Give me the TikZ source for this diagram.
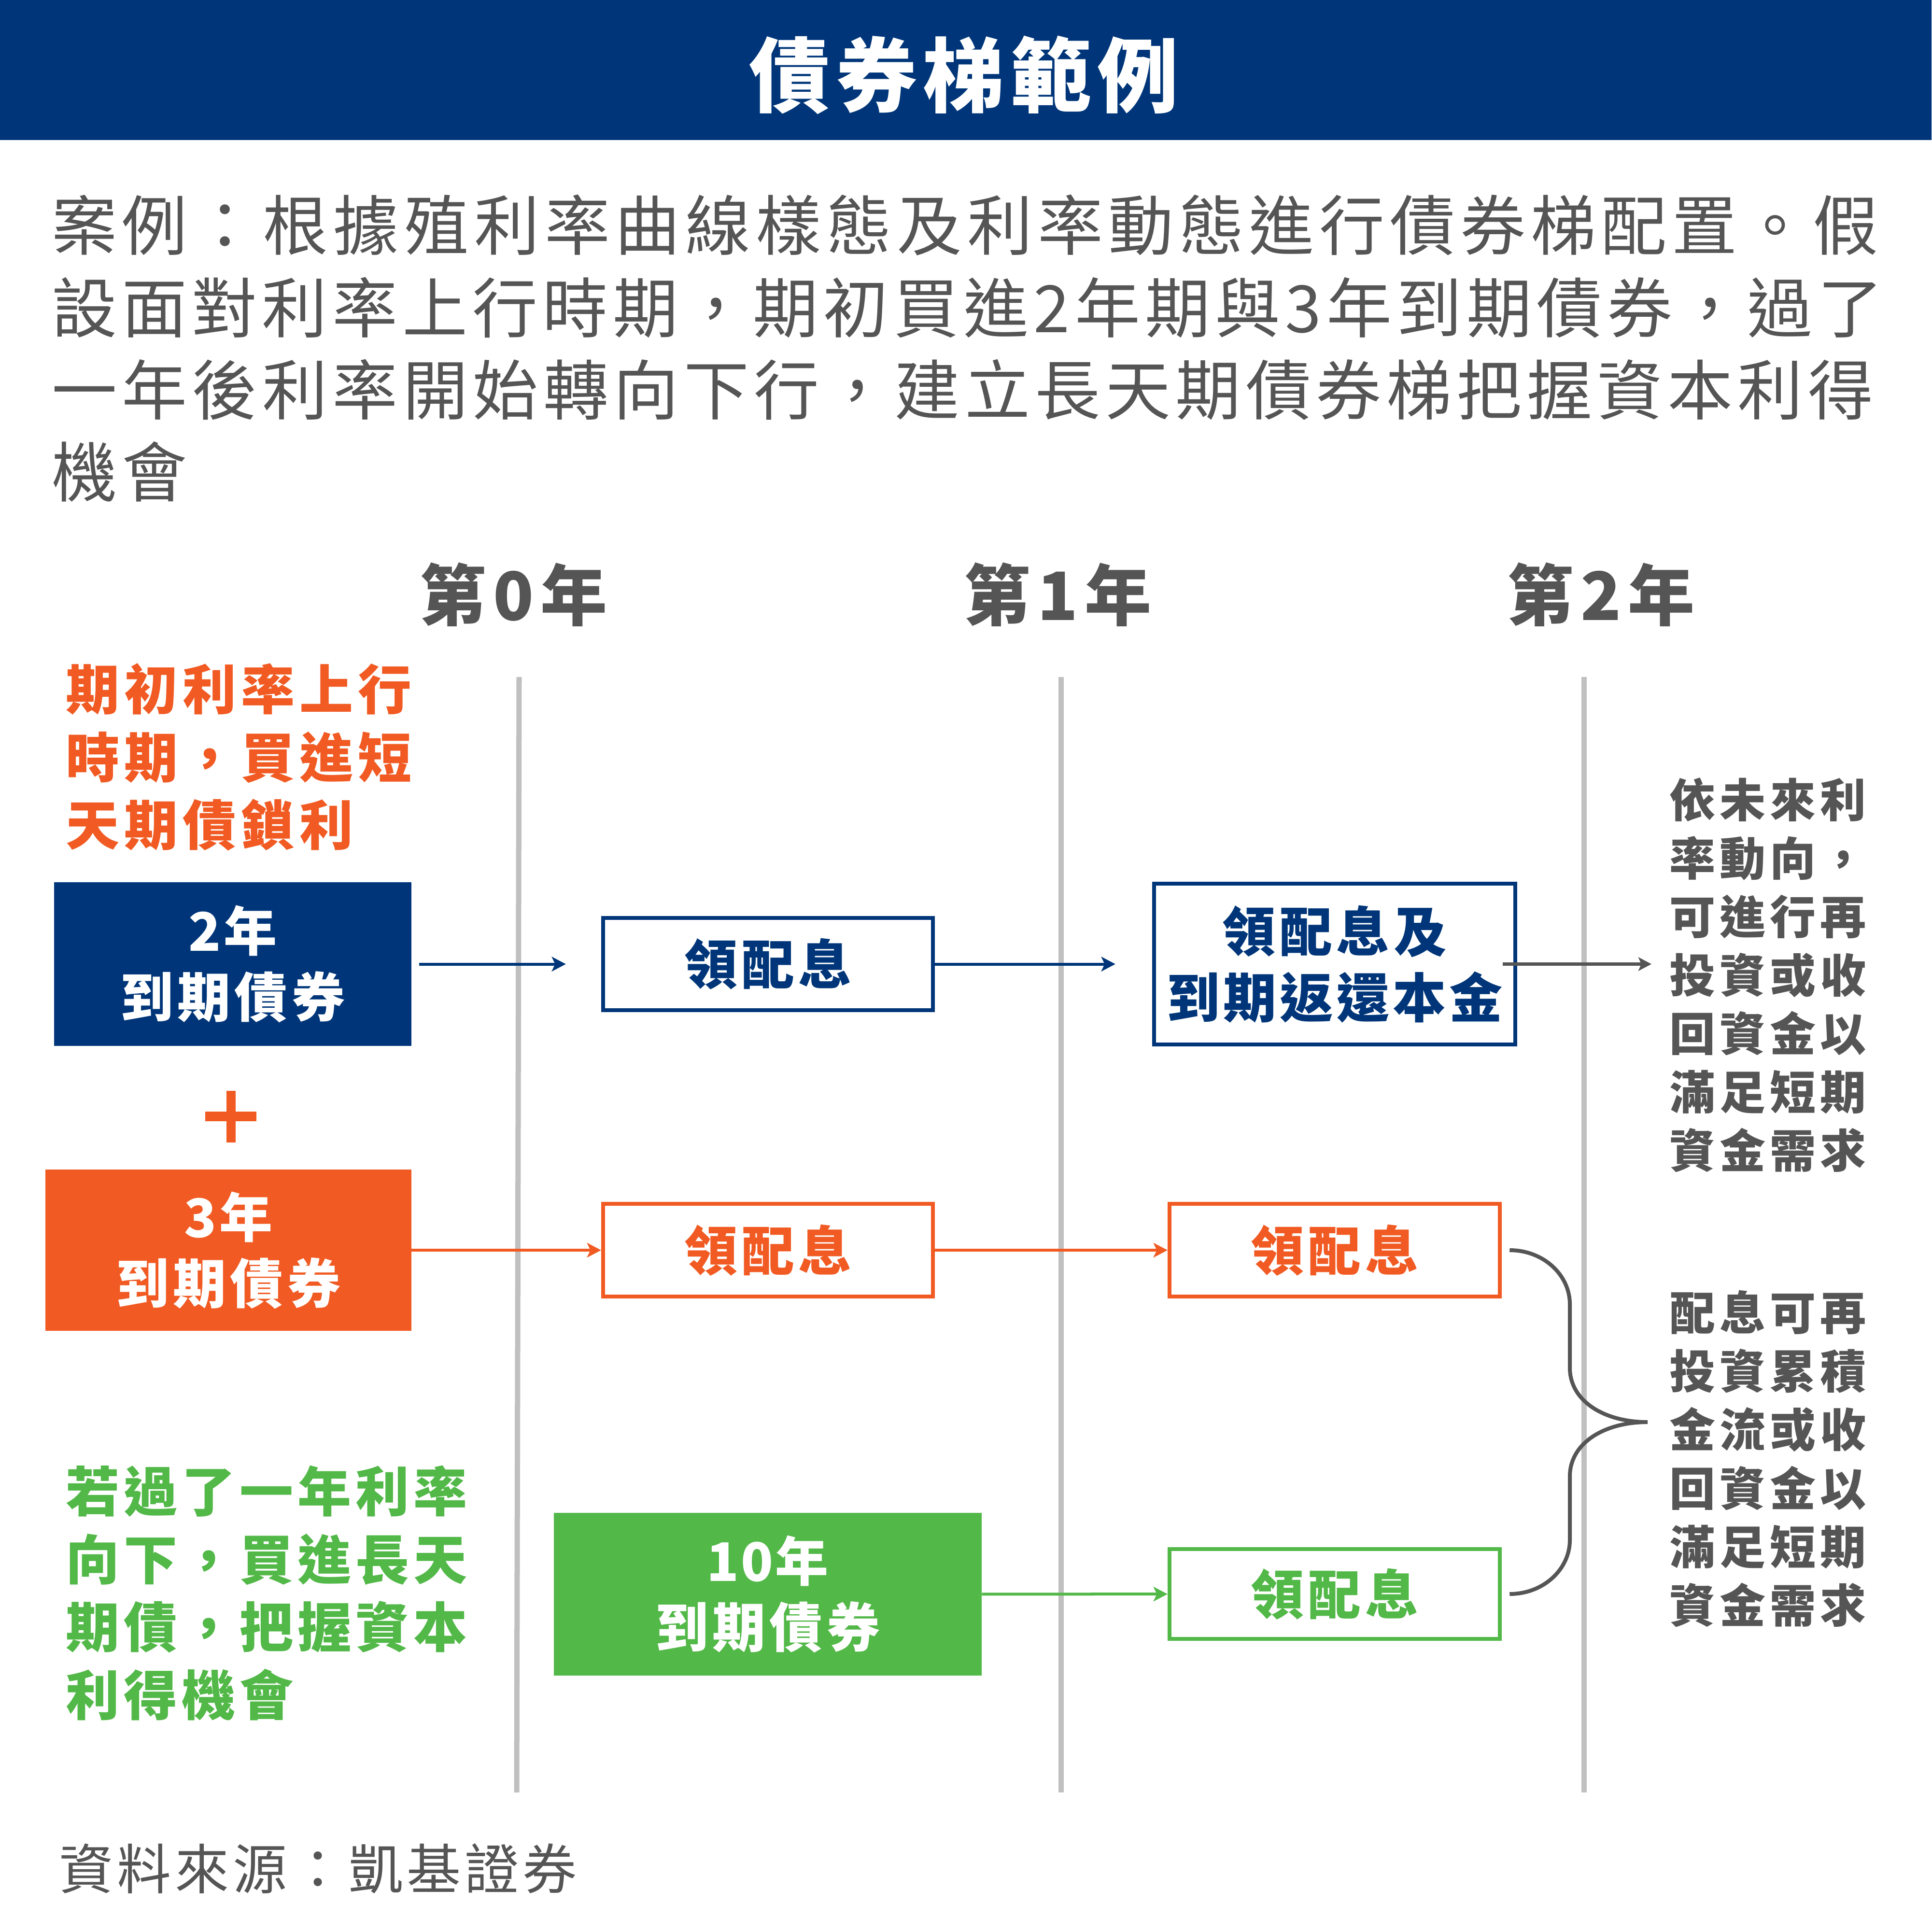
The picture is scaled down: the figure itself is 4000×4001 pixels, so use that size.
\documentclass[tikz,border=0pt]{standalone}
\usepackage{fontspec}
\setmainfont{Noto Sans CJK TC}
\usetikzlibrary{arrows.meta}
\definecolor{navy}{HTML}{003679}
\definecolor{orng}{HTML}{F15A22}
\definecolor{grn}{HTML}{52B848}
\definecolor{txtgray}{HTML}{555555}
\definecolor{linegray}{HTML}{C0C0C0}
\makeatletter
\newcommand\trk[2]{\begingroup\def\trk@sep{#1}\trk@a#2\trk@end\endgroup}
\def\trk@end{}
\def\trk@a#1{#1\trk@b}
\def\trk@b#1{\ifx#1\trk@end\else\trk@sep#1\expandafter\trk@b\fi}
\makeatother
\newcommand\kk[1]{\kern#1cm\relax}
\newcommand\fpara{\fontsize{1.35cm}{1.7cm}\selectfont}
\newcommand\ftitle{\fontsize{1.68cm}{2cm}\selectfont\bfseries}
\newcommand\fhead{\fontsize{1.38cm}{1.6cm}\selectfont\bfseries}
\newcommand\fside{\fontsize{1.11cm}{1.405cm}\selectfont\bfseries}
\newcommand\fboxtxt{\fontsize{1.10cm}{1.37cm}\selectfont\bfseries}
\newcommand\fright{\fontsize{0.95cm}{1.21cm}\selectfont\bfseries}
\newcommand\fsrc{\fontsize{1.12cm}{1.4cm}\selectfont}
\begin{document}
\begin{tikzpicture}[x=0.01cm,y=-0.01cm,
  txt/.style={inner sep=0, outer sep=0},
  filled/.style={draw=none, inner sep=0, outer sep=0, align=center, text=white, font=\fboxtxt},
  outl/.style={draw=#1, line width=0.08cm, inner sep=0, align=center, text=#1, font=\fboxtxt},
  arr/.style={-{Stealth[length=0.29cm,width=0.30cm,inset=0.07cm]}, line width=0.06cm},
  garr/.style={-{Stealth[length=0.27cm,width=0.28cm,inset=0.06cm]}, line width=0.075cm, draw=txtgray},
  vline/.style={draw=linegray, line width=0.11cm},
  bracepath/.style={draw=txtgray, line width=0.08cm}
]
\useasboundingbox (0,0) rectangle (4000,4001);
\fill[white] (0,0) rectangle (4000,4001);
\fill[navy] (0,0) rectangle (4000,290);
\node[txt, text=white, font=\ftitle] (title) at (1996,156) {\trk{\kk{0.12}}{債券梯範例}};

% paragraph
\node[txt, anchor=west, text=txtgray, font=\fpara] (p1) at (107,466) {\hbox to 37.8cm{\trk{\hfil}{案例：根據殖利率曲線樣態及利率動態進行債券梯配置。假}}};
\node[txt, anchor=west, text=txtgray, font=\fpara] (p2) at (107,637) {\hbox to 37.9cm{\trk{\hfil}{設面對利率上行時期，期初買進2年期與3年到期債券，過了}}};
\node[txt, anchor=west, text=txtgray, font=\fpara] (p3) at (107,807) {\hbox to 37.7cm{\trk{\hfil}{一年後利率開始轉向下行，建立長天期債券梯把握資本利得}}};
\node[txt, anchor=west, text=txtgray, font=\fpara] (p4) at (107,977) {\trk{\kk{0.10}}{機會}};

% column headers
\node[txt, text=txtgray, font=\fhead] (h0) at (1064,1231) {\trk{\kk{0.14}}{第0年}};
\node[txt, text=txtgray, font=\fhead] (h1) at (2191,1231) {\trk{\kk{0.14}}{第1年}};
\node[txt, text=txtgray, font=\fhead] (h2) at (3316,1231) {\trk{\kk{0.14}}{第2年}};

% vertical lines
\draw[vline] (1075,1402) -- (1070,3712);
\draw[vline] (2197,1402) -- (2197,3712);
\draw[vline] (3280,1402) -- (3280,3712);

% side texts
\node[txt, anchor=west, align=left, text=orng, font=\fside] (ot) at (136,1568) {\trk{\kk{0.10}}{期初利率上行}\\\trk{\kk{0.10}}{時期，買進短}\\\trk{\kk{0.10}}{天期債鎖利}};
\node[txt, anchor=west, align=left, text=grn, font=\fside] (gt) at (136,3299) {\trk{\kk{0.09}}{若過了一年利率}\\\trk{\kk{0.09}}{向下，買進長天}\\\trk{\kk{0.09}}{期債，把握資本}\\\trk{\kk{0.09}}{利得機會}};

% boxes
\node[filled, fill=navy, minimum width=7.40cm, minimum height=3.39cm] (b2) at (482,1996.5) {\trk{\kk{0.06}}{2年}\\\trk{\kk{0.08}}{到期債券}};
\node[filled, fill=orng, minimum width=7.58cm, minimum height=3.34cm] (b3) at (473,2589) {\trk{\kk{0.06}}{3年}\\\trk{\kk{0.08}}{到期債券}};
\node[filled, fill=grn, minimum width=8.86cm, minimum height=3.37cm] (g10) at (1590,3301.5) {\trk{\kk{0.04}}{10年}\\\trk{\kk{0.08}}{到期債券}};

\node[outl=navy, minimum width=6.83cm, minimum height=1.91cm] (n1) at (1590.5,1996.5) {\trk{\kk{0.08}}{領配息}};
\node[outl=navy, minimum width=7.48cm, minimum height=3.33cm] (n2) at (2764,1996.5) {\trk{\kk{0.08}}{領配息及}\\\trk{\kk{0.07}}{到期返還本金}};
\node[outl=orng, minimum width=6.83cm, minimum height=1.92cm] (o1) at (1590.5,2589) {\trk{\kk{0.08}}{領配息}};
\node[outl=orng, minimum width=6.84cm, minimum height=1.92cm] (o2) at (2764,2589) {\trk{\kk{0.08}}{領配息}};
\node[outl=grn, minimum width=6.84cm, minimum height=1.86cm] (g1) at (2764,3301) {\trk{\kk{0.08}}{領配息}};

% plus sign
\draw[orng, line width=0.2cm] (425,2312) -- (531,2312);
\draw[orng, line width=0.19cm] (478,2259) -- (478,2366);

% right texts
\node[txt, anchor=west, align=left, text=txtgray, font=\fright] (r1) at (3457,2019) {\trk{\kk{0.09}}{依未來利}\\\trk{\kk{0.09}}{率動向，}\\\trk{\kk{0.09}}{可進行再}\\\trk{\kk{0.09}}{投資或收}\\\trk{\kk{0.09}}{回資金以}\\\trk{\kk{0.09}}{滿足短期}\\\trk{\kk{0.09}}{資金需求}};
\node[txt, anchor=west, align=left, text=txtgray, font=\fright] (r2) at (3457,3021) {\trk{\kk{0.09}}{配息可再}\\\trk{\kk{0.09}}{投資累積}\\\trk{\kk{0.09}}{金流或收}\\\trk{\kk{0.09}}{回資金以}\\\trk{\kk{0.09}}{滿足短期}\\\trk{\kk{0.09}}{資金需求}};

% arrows
\draw[arr, navy, shorten <=0.16cm, shorten >=0.73cm] (b2) -- (n1);
\draw[arr, navy, shorten >=0.76cm] (n1) -- (n2);
\draw[arr, orng] (b3) -- (o1);
\draw[arr, orng] (o1) -- (o2);
\draw[arr, grn] (g10) -- (g1);
\draw[garr, shorten <=-0.30cm, shorten >=0.37cm] (n2.east) -- (n2.east -| r1.west);

% brace
\coordinate (bt) at ([xshift=0.16cm]o2.east);
\coordinate (bb) at ([xshift=0.16cm]g1.east);
\coordinate (btip) at (3412,2945);
\draw[bracepath] (bt) .. controls (3196,2589) and (3251,2640) .. (3251,2701) -- (3251,2833) .. controls (3251,2900) and (3320,2945) .. (btip) .. controls (3320,2945) and (3251,2990) .. (3251,3057) -- (3251,3189) .. controls (3251,3250) and (3196,3301) .. (bb);

% source
\node[txt, anchor=west, text=txtgray, font=\fsrc] (src) at (122,3870) {\trk{\kk{0.08}}{資料來源：凱基證券}};
\end{tikzpicture}
\end{document}
